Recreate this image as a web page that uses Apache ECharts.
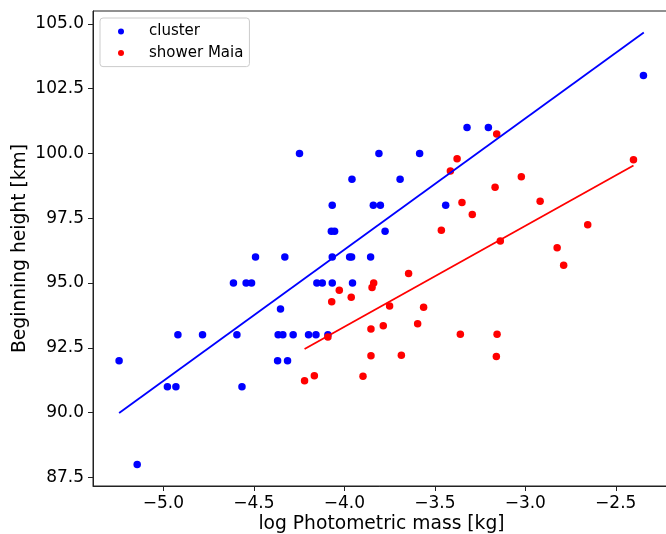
<!DOCTYPE html>
<html>
<head>
<meta charset="utf-8">
<script src="https://cdn.jsdelivr.net/npm/echarts@6/dist/echarts.min.js"></script>
<style>
  html, body { margin: 0; padding: 0; background: #fff; }
  #chart { width: 666px; height: 534px; }
</style>
</head>
<body>
<div id="chart"></div>
<script>
// log photometric mass [kg] and beginning height [km], cluster meteors
const clusterMass = [
  -5.245, -5.145, -4.978, -4.931, -4.920, -4.784, -4.613, -4.543, -4.513, -4.491,
  -4.594, -4.566, -4.353, -4.366, -4.340, -4.283, -4.369, -4.314, -4.329, -4.248,
  -4.198, -4.157, -4.091, -4.152, -4.122, -4.067, -3.955, -4.067, -3.971, -3.960,
  -3.855, -4.072, -4.054, -3.775, -4.067, -3.840, -3.801, -3.958, -3.692, -3.809,
  -3.584, -3.440, -3.322, -3.204, -2.347
];
const clusterHeight = [
  92, 88, 91, 91, 93, 93, 95, 95, 95, 96,
  93, 91, 94, 93, 93, 93, 92, 92, 96, 100,
  93, 93, 93, 95, 95, 95, 95, 96, 96, 96,
  96, 97, 97, 97, 98, 98, 98, 99, 99, 100,
  100, 98, 101, 101, 103
];

// shower Maia meteors
const maiaMass = [
  -4.220, -4.166, -4.091, -4.070, -4.028, -3.962, -3.897, -3.853, -3.853, -3.847,
  -3.838, -3.785, -3.750, -3.685, -3.645, -3.595, -3.562, -3.464, -3.414, -3.377,
  -3.359, -3.350, -3.293, -3.167, -3.158, -3.156, -3.160, -3.138, -3.022, -2.918,
  -2.824, -2.788, -2.655, -2.402
];
const maiaHeight = [
  91.23, 91.42, 92.92, 94.28, 94.72, 94.45, 91.40, 92.19, 93.22, 94.83,
  95.00, 93.35, 94.11, 92.21, 95.37, 93.43, 94.06, 97.03, 99.32, 99.79,
  93.02, 98.10, 97.64, 98.69, 100.75, 93.02, 92.16, 96.62, 99.10, 98.15,
  96.36, 95.68, 97.25, 99.75
];

// linear fits (end points)
const clusterFitMass = [-5.245, -2.345];
const clusterFitHeight = [89.98, 104.66];
const maiaFitMass = [-4.220, -2.402];
const maiaFitHeight = [92.45, 99.53];

// tick labels
const xTicks = [-5.0, -4.5, -4.0, -3.5, -3.0, -2.5];
const yTicks = [87.5, 90.0, 92.5, 95.0, 97.5, 100.0, 102.5, 105.0];

const zip = (a, b) => a.map((v, i) => [v, b[i]]);
const fmt = v => (v < 0 ? '\u2212' : '') + Math.abs(v).toFixed(1);

const FONT = 'DejaVu Sans';
const AXIS_COLOR = '#222';

const chart = echarts.init(document.getElementById('chart'), null, { renderer: 'canvas' });
chart.setOption({
  animation: false,
  backgroundColor: '#fff',
  grid: {
    left: 93, top: 11, right: -4, bottom: 48,
    outerBoundsMode: 'none',
    containLabel: false,
    show: true, borderColor: AXIS_COLOR, borderWidth: 1, backgroundColor: 'transparent'
  },
  legend: {
    orient: 'vertical',
    left: 100, top: 18,
    data: [
      { name: 'cluster', icon: 'circle' },
      { name: 'shower Maia', icon: 'circle' }
    ],
    itemWidth: 6, itemHeight: 6,
    itemGap: 6.6,
    padding: [6, 6, 6, 18],
    borderColor: '#cccccc', borderWidth: 1, borderRadius: 3,
    backgroundColor: 'rgba(255,255,255,0.8)',
    textStyle: { fontFamily: FONT, fontSize: 15, color: '#000', padding: [0, 0, 0, 20], lineHeight: 15 }
  },
  xAxis: {
    type: 'value',
    min: -5.3893, max: -2.2002,
    name: 'log Photometric mass [kg]',
    nameLocation: 'middle', nameGap: 29,
    nameMoveOverlap: false,
    nameTextStyle: { fontFamily: FONT, fontSize: 18.7, color: '#000' },
    splitLine: { show: false },
    axisLine: { show: true, lineStyle: { color: AXIS_COLOR, width: 1 } },
    axisTick: { show: true, inside: false, length: 5, customValues: xTicks, lineStyle: { color: AXIS_COLOR } },
    axisLabel: {
      customValues: xTicks, margin: 9, formatter: fmt,
      fontFamily: FONT, fontSize: 17, color: '#000'
    }
  },
  yAxis: {
    type: 'value',
    min: 87.167, max: 105.493,
    name: 'Beginning height [km]',
    nameLocation: 'middle', nameGap: 63,
    nameMoveOverlap: false,
    nameTextStyle: { fontFamily: FONT, fontSize: 18.7, color: '#000' },
    splitLine: { show: false },
    axisLine: { show: true, lineStyle: { color: AXIS_COLOR, width: 1 } },
    axisTick: { show: true, inside: false, length: 5, customValues: yTicks, lineStyle: { color: AXIS_COLOR } },
    axisLabel: {
      customValues: yTicks, margin: 9, formatter: fmt,
      fontFamily: FONT, fontSize: 17, color: '#000'
    }
  },
  series: [
    {
      name: 'cluster', type: 'scatter',
      data: zip(clusterMass, clusterHeight),
      symbol: 'circle', symbolSize: 7.5,
      itemStyle: { color: '#0000ff', opacity: 1 },
      z: 2
    },
    {
      name: 'shower Maia', type: 'scatter',
      data: zip(maiaMass, maiaHeight),
      symbol: 'circle', symbolSize: 7.5,
      itemStyle: { color: '#ff0000', opacity: 1 },
      z: 2
    },
    {
      name: 'cluster fit', type: 'line',
      data: zip(clusterFitMass, clusterFitHeight),
      showSymbol: false, symbol: 'none',
      lineStyle: { color: '#0000ff', width: 1.8 },
      z: 3
    },
    {
      name: 'shower Maia fit', type: 'line',
      data: zip(maiaFitMass, maiaFitHeight),
      showSymbol: false, symbol: 'none',
      lineStyle: { color: '#ff0000', width: 1.8 },
      z: 3
    }
  ]
});
</script>
</body>
</html>
